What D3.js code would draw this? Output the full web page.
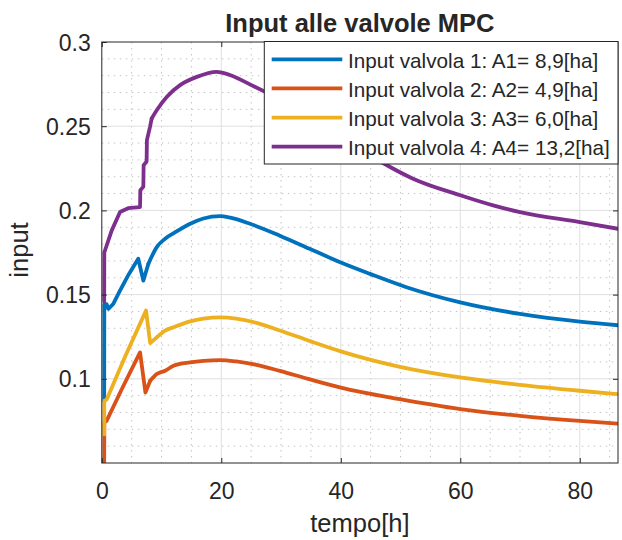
<!DOCTYPE html>
<html>
<head>
<meta charset="utf-8">
<script src="https://cdn.jsdelivr.net/npm/d3@7"></script>
<style>
  html, body { margin: 0; padding: 0; background: #ffffff; }
  svg { display: block; }
  text { font-family: "Liberation Sans", Arial, Helvetica, sans-serif; fill: #262626; }
</style>
</head>
<body>
<svg id="chart" width="622" height="540"></svg>
<script>
// ---- data ----
const titleText = "Input alle valvole MPC";
const xLabel = "tempo[h]";
const yLabel = "input";
const xTicks = [0, 20, 40, 60, 80];
const yTicks = [0.1, 0.15, 0.2, 0.25, 0.3];
const xDomain = [0, 86.4];
const yDomain = [0.05, 0.3];

const seriesNames = [
  "Input valvola 1: A1= 8,9[ha]",
  "Input valvola 2: A2= 4,9[ha]",
  "Input valvola 3: A3= 6,0[ha]",
  "Input valvola 4: A4= 13,2[ha]"
];
const seriesColors = ["#0072BD", "#D95319", "#EDB120", "#7E2F8E"];

const t1 = [0.4, 0.42, 0.8, 1.1, 1.9, 3.0, 4.5, 6.1, 6.95, 7.8, 9.2, 10.6, 12, 14.8, 17, 19.8, 21.5, 24.8, 29.8, 34.8, 39.9, 44.9, 51, 60, 70, 80, 86.4];
const v1 = [0.087, 0.1444, 0.1444, 0.1415, 0.1444, 0.152, 0.162, 0.1713, 0.1583, 0.1683, 0.1782, 0.1832, 0.1864, 0.1921, 0.1952, 0.1966, 0.1957, 0.1921, 0.185, 0.1772, 0.1692, 0.1623, 0.1544, 0.1454, 0.1385, 0.1339, 0.1318];

const t2 = [0.4, 0.42, 0.8, 3.5, 6.4, 7.3, 8.1, 9.2, 10.6, 12, 14.8, 17, 19.8, 22.5, 25.9, 29.8, 35, 40, 49.9, 60, 70, 80, 86.4];
const v2 = [0.05, 0.074, 0.075, 0.095, 0.1157, 0.0918, 0.0988, 0.1028, 0.1048, 0.1077, 0.1097, 0.1106, 0.1111, 0.1103, 0.1083, 0.1047, 0.0995, 0.0948, 0.0879, 0.082, 0.078, 0.075, 0.0734];

const t3 = [0.4, 0.42, 0.8, 4, 7.4, 8.1, 9.2, 10.6, 12, 14.8, 17, 19.8, 22.5, 25.9, 29.8, 35, 40, 49.9, 60, 70, 80, 86.4];
const v3 = [0.067, 0.0869, 0.0875, 0.114, 0.1405, 0.1212, 0.1246, 0.1286, 0.1306, 0.1341, 0.1357, 0.1365, 0.1358, 0.1332, 0.1287, 0.1222, 0.1163, 0.1071, 0.1008, 0.0964, 0.0929, 0.0909];

const t4 = [0.4, 0.42, 1.65, 3.05, 4.4, 6.4, 6.45, 6.95, 7.0, 7.5, 7.55, 8.07, 8.35, 9.19, 10.86, 13.1, 15.9, 19.2, 20.3, 25.6, 30, 35, 40, 47, 52, 60, 65.5, 70, 80, 86.4];
const v4 = [0.146, 0.175, 0.188, 0.199, 0.2013, 0.202, 0.212, 0.214, 0.2268, 0.229, 0.2417, 0.2496, 0.2546, 0.2595, 0.2674, 0.2744, 0.2793, 0.2823, 0.2817, 0.2734, 0.2655, 0.2555, 0.2445, 0.2283, 0.219, 0.209, 0.203, 0.199, 0.193, 0.1891];

const seriesT = [t1, t2, t3, t4];
const seriesV = [v1, v2, v3, v4];
const smoothStart = [7.8, 8.1, 9.2, 8.35]; // after the last jump each trace is a smooth curve

// ---- layout ----
const svg = d3.select("#chart");
const L = 101.8, R = 618, T = 42, B = 463;
const axisColor = "#262626";

const x = d3.scaleLinear().domain(xDomain).range([L, R]);
const y = d3.scaleLinear().domain(yDomain).range([B, T]);

svg.append("rect").attr("x", 0).attr("y", 0).attr("width", 622).attr("height", 540).attr("fill", "#ffffff");

svg.append("defs").append("clipPath").attr("id", "plotclip")
  .append("rect").attr("x", L).attr("y", T).attr("width", R - L).attr("height", B - T);

// minor grid
const xMinor = d3.range(5, xDomain[1], 5).filter(v => v % 20 !== 0);
const yMinor = d3.range(6, 30, 1).map(v => v / 100).filter(v => Math.round(v * 100) % 5 !== 0);
const gGrid = svg.append("g");
gGrid.selectAll(".xminor").data(xMinor).join("line")
  .attr("x1", d => x(d)).attr("x2", d => x(d)).attr("y1", T).attr("y2", B)
  .attr("stroke", "#c4c4c4").attr("stroke-width", 1).attr("stroke-dasharray", "1.5,4.5");
gGrid.selectAll(".yminor").data(yMinor).join("line")
  .attr("x1", L).attr("x2", R).attr("y1", d => y(d)).attr("y2", d => y(d))
  .attr("stroke", "#c4c4c4").attr("stroke-width", 1).attr("stroke-dasharray", "1.5,4.5");
// major grid
gGrid.selectAll(".xmajor").data(xTicks.filter(d => d > 0)).join("line")
  .attr("x1", d => x(d)).attr("x2", d => x(d)).attr("y1", T).attr("y2", B)
  .attr("stroke", "#dfdfdf").attr("stroke-width", 1);
gGrid.selectAll(".ymajor").data(yTicks.filter(d => d < 0.3)).join("line")
  .attr("x1", L).attr("x2", R).attr("y1", d => y(d)).attr("y2", d => y(d))
  .attr("stroke", "#dfdfdf").attr("stroke-width", 1);

// series lines: sharp early (stair/jump) part, smooth later part
const lineSharp = d3.line().x(d => x(d[0])).y(d => y(d[1]));
const lineSmooth = d3.line().x(d => x(d[0])).y(d => y(d[1])).curve(d3.curveMonotoneX);
const gLines = svg.append("g").attr("clip-path", "url(#plotclip)");
seriesT.forEach((ts, i) => {
  const pts = ts.map((t, k) => [t, seriesV[i][k]]);
  const k0 = pts.findIndex(p => p[0] >= smoothStart[i]);
  const early = pts.slice(0, k0 + 1);
  const late = pts.slice(k0);
  [[early, lineSharp], [late, lineSmooth]].forEach(([seg, gen]) => {
    gLines.append("path").datum(seg)
      .attr("d", gen)
      .attr("fill", "none")
      .attr("stroke", seriesColors[i])
      .attr("stroke-width", 3.8)
      .attr("stroke-linejoin", "round")
      .attr("stroke-linecap", "round");
  });
});

// axes (ticks inward, box on)
const tickLen = 5;
const xAxisB = d3.axisBottom(x).tickValues(xTicks).tickSize(-tickLen).tickPadding(20).tickFormat(d3.format("d"));
const xAxisT = d3.axisTop(x).tickValues(xTicks).tickSize(-tickLen).tickFormat("");
const yAxisL = d3.axisLeft(y).tickValues(yTicks).tickSize(-tickLen).tickPadding(11).tickFormat(d => d3.format("")(d));
const yAxisR = d3.axisRight(y).tickValues(yTicks).tickSize(-tickLen).tickFormat("");

function styleAxis(g) {
  g.select(".domain").attr("stroke", axisColor).attr("stroke-width", 1);
  g.selectAll(".tick line").attr("stroke", axisColor).attr("stroke-width", 1);
  g.selectAll(".tick text").attr("fill", axisColor)
    .style("font-family", '"Liberation Sans", Arial, sans-serif').style("font-size", "23px");
}
const gxb = svg.append("g").attr("transform", `translate(0,${B})`).call(xAxisB).call(styleAxis);
gxb.selectAll(".tick text").attr("dy", null).attr("y", 36);
const gxt = svg.append("g").attr("transform", `translate(0,${T})`).call(xAxisT).call(styleAxis);
const gyl = svg.append("g").attr("transform", `translate(${L},0)`).call(yAxisL).call(styleAxis);
gyl.selectAll(".tick text").attr("dy", "0.35em");
const gyr = svg.append("g").attr("transform", `translate(${R},0)`).call(yAxisR).call(styleAxis);
[gxb, gxt, gyl, gyr].forEach(g => g.select(".domain").attr("d", null));
svg.append("rect").attr("x", L).attr("y", T).attr("width", R - L).attr("height", B - T)
  .attr("fill", "none").attr("stroke", axisColor).attr("stroke-width", 1);

// labels
svg.append("text").attr("x", (L + R) / 2).attr("y", 32).attr("text-anchor", "middle")
  .style("font-size", "25.5px").style("font-weight", "bold").attr("fill", "#000000").text(titleText);
svg.append("text").attr("x", (L + R) / 2).attr("y", 532).attr("text-anchor", "middle")
  .style("font-size", "25.5px").text(xLabel);
svg.append("text").attr("transform", "translate(28,250) rotate(-90)").attr("text-anchor", "middle")
  .style("font-size", "25.5px").text(yLabel);

// legend
const lg = svg.append("g");
const lgX = 264.3, lgY = 41.5, lgW = 618 - 264.3, lgH = 164 - 41.5;
lg.append("rect").attr("x", lgX).attr("y", lgY).attr("width", lgW).attr("height", lgH)
  .attr("fill", "#ffffff").attr("stroke", axisColor).attr("stroke-width", 1);
const rowY = [59.3, 88.3, 117.6, 146.7];
seriesNames.forEach((name, i) => {
  lg.append("line").attr("x1", 271.7).attr("x2", 342.3).attr("y1", rowY[i]).attr("y2", rowY[i])
    .attr("stroke", seriesColors[i]).attr("stroke-width", 3.8);
  lg.append("text").attr("x", 348).attr("y", rowY[i] + 8.5)
    .style("font-size", "20.7px").attr("fill", "#000000").text(name);
});
</script>
</body>
</html>
